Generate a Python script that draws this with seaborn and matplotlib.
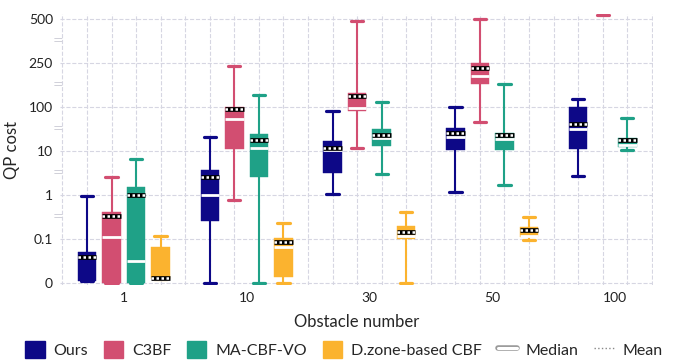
import numpy as np
import pandas as pd
import seaborn as sns
import matplotlib.pyplot as plt
import matplotlib.transforms as mtransforms
import matplotlib.patheffects as pe
from matplotlib.lines import Line2D
from matplotlib.patches import Patch
from matplotlib.ticker import FixedLocator, FixedFormatter

obstacles = ["1", "10", "30", "50", "100"]
methods = ["Ours", "C3BF", "MA-CBF-VO", "D.zone-based CBF"]
colors = ["#0d0887", "#d24e71", "#1fa187", "#fbb32f"]

# (whisker low, q1, median, q3, whisker high) for each obstacle count
ours_box = [(0.005, 0.005, 0.058, 0.070, 0.95),
            (0.0, 0.26, 1.0, 3.6, 21),
            (1.05, 3.1, 10.2, 16.6, 80),
            (1.15, 10.2, 21, 33, 101),
            (2.7, 11.2, 31, 98, 126)]
c3bf_box = [(0.0, 0.0, 0.11, 0.41, 2.6),
            (0.76, 11.2, 52, 101, 238),
            (11.5, 81, 96, 146, 490),
            (45, 178, 205, 249, 500),
            (522, 700, 800, 900, 1100)]
macbf_box = [(0.0, 0.0, 0.049, 1.5, 6.5),
             (0.0, 2.6, 11.5, 24, 140),
             (3.0, 12.6, 20, 31, 117),
             (1.66, 10.7, 18.6, 26, 178),
             (10.5, 12, 13.7, 19.5, 55)]
dzone_box = [(0.008, 0.008, 0.009, 0.081, 0.117),
             (0.0, 0.013, 0.081, 0.105, 0.23),
             (0.0, 0.099, 0.117, 0.195, 0.41),
             (0.098, 0.11, 0.117, 0.185, 0.31),
             None]

ours_mean = [0.060, 2.6, 11.5, 26, 40]
c3bf_mean = [0.33, 89, 137, 232, 820]
macbf_mean = [1.0, 17.8, 23, 23, 17.8]
dzone_mean = [0.011, 0.093, 0.142, 0.16, None]

ytick_values = [0, 0.1, 1, 10, 100, 250, 500]
ytick_labels = ["0", "0.1", "1", "10", "100", "250", "500"]


# piecewise axis: linear to 0.1, log up to 100, then linear pieces
def fwd(v):
    v = np.asarray(v, dtype=float)
    safe = np.clip(v, 0.1, 100)
    return np.where(v < 0.1, v / 0.1,
           np.where(v < 100, 1 + np.log10(safe / 0.1),
           np.where(v < 250, 4 + (v - 100) / 150, 5 + (v - 250) / 250)))


def inv(p):
    p = np.asarray(p, dtype=float)
    safe = np.clip(p, 1, 4)
    return np.where(p < 1, 0.1 * p,
           np.where(p < 4, 0.1 * 10 ** (safe - 1),
           np.where(p < 5, 100 + 150 * (p - 4), 250 + 250 * (p - 5))))


def main():
    sns.set_style("white")
    plt.rcParams["font.family"] = ["Lato", "DejaVu Sans"]

    all_boxes = [ours_box, c3bf_box, macbf_box, dzone_box]
    all_means = [ours_mean, c3bf_mean, macbf_mean, dzone_mean]

    rows = []
    for m, boxes in zip(methods, all_boxes):
        for obs, stats in zip(obstacles, boxes):
            if stats is None:
                continue
            for v in stats:
                rows.append({"Obstacle number": obs, "QP cost": v, "method": m})
    df = pd.DataFrame(rows)

    fig, ax = plt.subplots(figsize=(6.81, 3.6), dpi=100)
    fig.subplots_adjust(left=0.088, right=0.959, top=0.96, bottom=0.208)

    sns.boxplot(data=df, x="Obstacle number", y="QP cost", hue="method",
                order=obstacles, hue_order=methods, palette=colors,
                saturation=1, whis=(0, 100), width=0.8, gap=0.25, fliersize=0,
                linewidth=1.5, capwidths=0.1,
                medianprops=dict(color="white", linewidth=2.0),
                capprops=dict(linewidth=2.3),
                legend=False, ax=ax)

    # color whiskers/caps like the boxes, add mean lines
    for cont, color, means in zip(ax.containers, colors, all_means):
        for patch in cont.boxes:
            patch.set_edgecolor(color)
            patch.set_linewidth(0.3)
        for ln in cont.whiskers:
            ln.set_color(color)
        for ln in cont.caps:
            ln.set_color(color)
            ln.set_zorder(1.5)
        for ln in cont.medians:
            ln.set_zorder(3)
        vals = [mv for mv in means if mv is not None]
        for patch, mv in zip(cont.boxes, vals):
            xs = patch.get_path().vertices[:, 0]
            ax.hlines(mv, xs.min(), xs.max(), colors="black", lw=3.4, zorder=4)
            ax.hlines(mv, xs.min(), xs.max(), colors="white", lw=1.8,
                      linestyles=(0, (1, 1)), zorder=5)

    ax.set_yscale("function", functions=(fwd, inv))
    ax.set_ylim(float(inv(-0.05)), float(inv(6.1)))
    ax.yaxis.set_major_locator(FixedLocator(ytick_values))
    ax.yaxis.set_major_formatter(FixedFormatter(ytick_labels))
    ax.yaxis.set_minor_locator(FixedLocator([]))
    ax.set_xlim(-0.52, 4.31)
    ax.xaxis.set_minor_locator(FixedLocator(np.arange(-0.5, 4.51, 0.2)))

    ax.grid(False)
    ax.yaxis.grid(True, which="major", ls="--", color="#d6d6e2", lw=0.8)
    ax.xaxis.grid(True, which="minor", ls="--", color="#d6d6e2", lw=0.8)
    ax.set_axisbelow(True)
    for s in ax.spines.values():
        s.set_visible(False)
    ax.tick_params(axis="both", which="major", length=0, labelsize=10,
                   colors="#222222", pad=5)
    ax.tick_params(axis="x", which="minor", length=3, color="#d6d6e2")

    # axis break marks between decades
    trans = mtransforms.blended_transform_factory(ax.transAxes, ax.transData)
    for i in range(1, 6):
        ax.text(-0.004, float(inv(i + 0.5)), "=", transform=trans, ha="center",
                va="center", color="#cfcfd8", fontsize=9, family="DejaVu Sans",
                clip_on=False)

    ax.set_xlabel("Obstacle number", fontsize=12, labelpad=7)
    ax.set_ylabel("QP cost", fontsize=12, labelpad=6)

    handles = [Patch(facecolor=c, edgecolor=c) for c in colors]
    handles.append(Line2D([], [], color="white", lw=2.2,
                          path_effects=[pe.Stroke(linewidth=4.0, foreground="#9a9a9a"),
                                        pe.Normal()]))
    handles.append(Line2D([], [], color="#888888", lw=1.0, ls=":"))
    fig.legend(handles, methods + ["Median", "Mean"], loc="lower center",
               bbox_to_anchor=(0.505, -0.035), ncol=6, frameon=False, fontsize=11.5,
               handlelength=1.2, handleheight=1.3, handletextpad=0.55,
               columnspacing=1.0)

    fig.savefig("out.png", dpi=100)


if __name__ == "__main__":
    main()
